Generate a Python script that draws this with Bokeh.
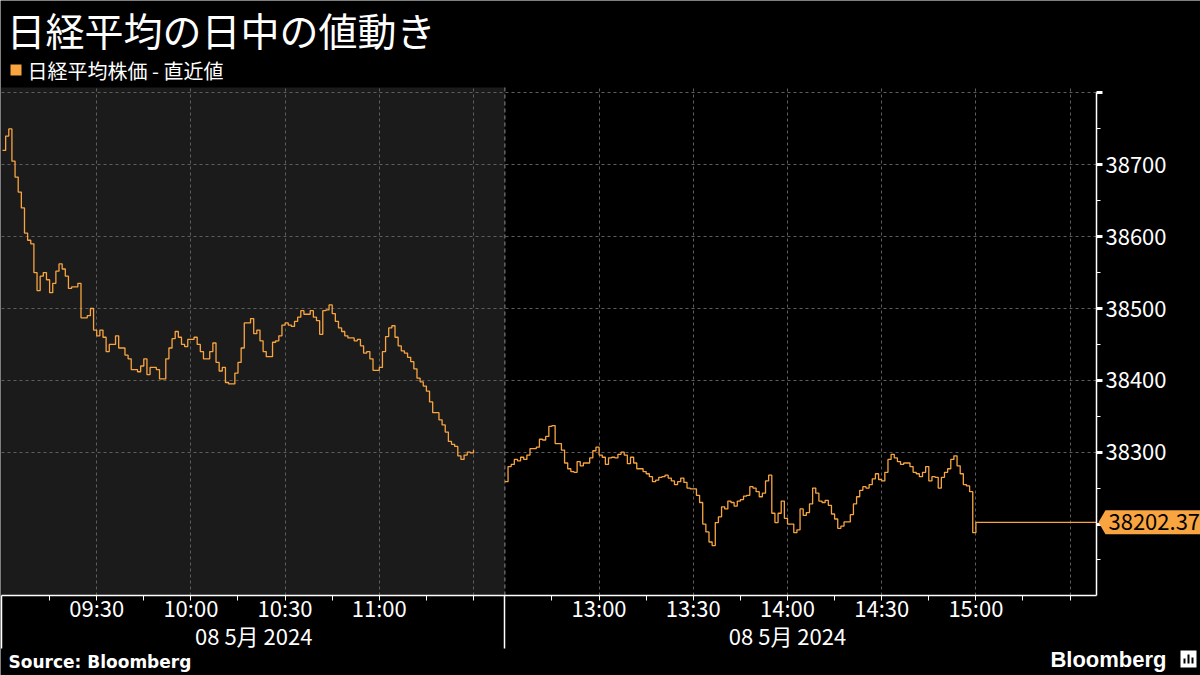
from bokeh.plotting import figure
from bokeh.models import (Range1d, FixedTicker, BoxAnnotation, Label,
                          PolyAnnotation, LinearAxis, Grid)
from bokeh.embed import file_html
from bokeh.resources import INLINE

# ---------------- data ----------------
TITLE = "日経平均の日中の値動き"
SERIES_NAME = "日経平均株価 - 直近値"
DATE_LABEL = "08 5月 2024"
SOURCE = "Source:  Bloomberg"
BRAND = "Bloomberg"

# morning session: 1-minute bars from 09:00
am_start = "09:00"
am_values = [
    38720, 38740, 38750, 38705, 38683, 38662, 38640, 38605, 38595, 38590,
    38550, 38525, 38545, 38550, 38540, 38522, 38535, 38552, 38562, 38555,
    38545, 38528, 38530, 38530, 38535, 38487, 38487, 38490, 38500, 38470,
    38462, 38470, 38460, 38440, 38450, 38450, 38462, 38445, 38445, 38435,
    38430, 38415, 38415, 38412, 38420, 38430, 38408, 38418, 38418, 38415,
    38402, 38402, 38430, 38445, 38458, 38468, 38460, 38450, 38447, 38457,
    38457, 38460, 38450, 38440, 38430, 38430, 38440, 38452, 38425, 38413,
    38418, 38397, 38395, 38395, 38410, 38425, 38445, 38480, 38480, 38486,
    38465, 38470, 38455, 38440, 38433, 38433, 38453, 38455, 38462, 38477,
    38480, 38477, 38475, 38482, 38488, 38497, 38492, 38492, 38497, 38488,
    38483, 38464, 38497, 38498, 38505, 38493, 38482, 38473, 38468, 38462,
    38459, 38459, 38455, 38457, 38448, 38438, 38440, 38430, 38414, 38414,
    38418, 38440, 38461, 38473, 38476, 38460, 38448, 38441, 38438, 38432,
    38426, 38416, 38403, 38398, 38392, 38385, 38370, 38355, 38355, 38345,
    38338, 38328, 38315, 38311, 38308, 38295, 38290, 38296, 38300, 38299,
    38303,
]

# afternoon session: 1-minute bars from 12:30
pm_start = "12:30"
pm_values = [
    38259, 38280, 38283, 38290, 38288, 38293, 38290, 38296, 38305, 38305,
    38307, 38318, 38317, 38322, 38336, 38337, 38312, 38312, 38303, 38285,
    38277, 38273, 38272, 38287, 38281, 38285, 38285, 38292, 38302, 38307,
    38296, 38293, 38283, 38292, 38293, 38292, 38297, 38300, 38296, 38284,
    38293, 38285, 38277, 38277, 38273, 38270, 38266, 38259, 38261, 38265,
    38266, 38268, 38264, 38260, 38255, 38259, 38264, 38258, 38250, 38249,
    38249, 38240, 38230, 38200, 38189, 38175, 38170, 38202, 38210, 38224,
    38221, 38232, 38230, 38225, 38232, 38234, 38239, 38240, 38252, 38250,
    38245, 38238, 38243, 38260, 38268, 38215, 38202, 38215, 38232, 38208,
    38200, 38200, 38188, 38192, 38221, 38212, 38216, 38228, 38250, 38243,
    38232, 38230, 38233, 38226, 38214, 38207, 38194, 38197, 38203, 38203,
    38213, 38228, 38238, 38247, 38252, 38250, 38255, 38263, 38270, 38262,
    38260, 38272, 38290, 38297, 38292, 38287, 38283, 38285, 38285, 38280,
    38272, 38270, 38266, 38272, 38280, 38260, 38266, 38265, 38250, 38265,
    38272, 38277, 38290, 38295, 38281, 38270, 38255, 38253, 38245, 38188,
    38202.37,
]
last_value = 38202.37

time_labels = ["09:30", "10:00", "10:30", "11:00",
               "13:00", "13:30", "14:00", "14:30", "15:00"]
minor_times = ["09:15", "09:45", "10:15", "10:45", "11:15", "11:30",
               "12:45", "13:15", "13:45", "14:15", "14:45", "15:15", "15:30"]
grid_times = ["09:30", "10:00", "10:30", "11:00", "11:30",
              "13:00", "13:30", "14:00", "14:30", "15:00", "15:30"]
y_ticks = [38200, 38300, 38400, 38500, 38600, 38700, 38800]
y_labels = ["", "38300", "38400", "38500", "38600", "38700", ""]

# ---------------- layout constants ----------------
W, H = 1200, 675
LUNCH_POS = 160                 # compressed axis position of 12:30
X_START, X_END = -0.637, 381.53  # whole canvas in x units
CHART_X0, CHART_X1 = -0.45, 348.4
Y_START, Y_END = 37989.2, 38928.7  # whole canvas in y units
Y_BOT, Y_TOP = 38100.6, 38807.6
PX_X = W / (X_END - X_START)
PX_Y = H / (Y_END - Y_START)

ORANGE = "#F8A541"
WHITE = "#FFFFFF"
GRID = "#5E5E5E"
FONT = "Noto Sans CJK JP"


def hm(s):
    h, m = s.split(":")
    return int(h) * 60 + int(m)


def pos(s):
    t = hm(s)
    if t <= hm("12:00"):
        return t - hm(am_start)
    return LUNCH_POS + t - hm(pm_start)


am_x = [i for i in range(len(am_values))]
pm_x = [LUNCH_POS + i for i in range(len(pm_values))]

p = figure(width=W, height=H, output_backend="svg", toolbar_location=None,
           title=None, x_range=Range1d(X_START, X_END),
           y_range=Range1d(Y_START, Y_END),
           x_axis_location=None, y_axis_location=None,
           min_border=0, background_fill_color="black",
           border_fill_color="black", outline_line_color=None)
p.grid.visible = False

# morning shading
p.add_layout(BoxAnnotation(left=CHART_X0, right=LUNCH_POS, bottom=Y_BOT, top=Y_TOP,
                           fill_color="#1B1B1B", fill_alpha=1, line_color=None,
                           level="underlay"))

# grids
if "cross_bounds" in Grid.properties():
    xg = Grid(dimension=0, ticker=FixedTicker(ticks=[pos(s) for s in grid_times]),
              cross_bounds=(Y_BOT, Y_TOP))
    yg = Grid(dimension=1, ticker=FixedTicker(ticks=y_ticks[1:]),
              cross_bounds=(CHART_X0, CHART_X1))
    for g in (xg, yg):
        g.grid_line_color = GRID
        g.grid_line_dash = "3 3"
        g.grid_line_width = 1
        p.add_layout(g)
else:
    gx = [pos(s) for s in grid_times]
    p.segment(gx, [Y_BOT] * len(gx), gx, [Y_TOP] * len(gx), line_color=GRID,
              line_dash="3 3", line_width=1)
    gy = y_ticks[1:]
    p.segment([CHART_X0] * len(gy), gy, [CHART_X1] * len(gy), gy,
              line_color=GRID, line_dash="3 3", line_width=1)

# session separator
p.segment([LUNCH_POS], [Y_BOT], [LUNCH_POS], [Y_TOP], line_color="#8A8A8A",
          line_dash="4 3", line_width=1)

# x axis (fixed at chart bottom)
xa = LinearAxis(fixed_location=Y_BOT, bounds=(CHART_X0, CHART_X1),
                ticker=FixedTicker(ticks=[pos(s) for s in time_labels],
                                   minor_ticks=[pos(s) for s in minor_times]))
xa.major_label_overrides = {pos(s): s for s in time_labels}
xa.axis_line_color = WHITE
xa.axis_line_width = 1.5
xa.major_tick_line_color = WHITE
xa.minor_tick_line_color = WHITE
xa.major_tick_out = 5
xa.major_tick_in = 0
xa.minor_tick_out = 5
xa.minor_tick_in = 0
xa.major_label_text_color = WHITE
xa.major_label_text_font = FONT
xa.major_label_text_font_size = "22px"
xa.major_label_standoff = -9
p.add_layout(xa, "below")

# long session boundary ticks
xb = LinearAxis(fixed_location=Y_BOT,
                ticker=FixedTicker(ticks=[CHART_X0, LUNCH_POS], minor_ticks=[]))
xb.axis_line_color = None
xb.major_tick_line_color = WHITE
xb.major_tick_line_width = 1.5
xb.major_tick_out = 53
xb.major_tick_in = 0
xb.minor_tick_line_color = None
xb.major_label_text_color = None
p.add_layout(xb, "below")

# y axis (fixed at chart right edge)
ya = LinearAxis(fixed_location=CHART_X1, bounds=(Y_BOT, y_ticks[-1]),
                ticker=FixedTicker(ticks=y_ticks,
                                   minor_ticks=[v + 50 for v in y_ticks[:-1]] + [38150]))
ya.major_label_overrides = {v: l for v, l in zip(y_ticks, y_labels)}
ya.axis_line_color = WHITE
ya.axis_line_width = 1.5
ya.major_tick_line_color = WHITE
ya.major_tick_line_width = 3
ya.minor_tick_line_color = WHITE
ya.major_tick_out = 6
ya.major_tick_in = 0
ya.minor_tick_out = 4
ya.minor_tick_in = 0
ya.major_label_text_color = WHITE
ya.major_label_text_font = FONT
ya.major_label_text_font_size = "22px"
ya.major_label_standoff = 3
p.add_layout(ya, "right")

# series
p.step(am_x, am_values, mode="after", line_color=ORANGE, line_width=1.3)
p.step(pm_x, pm_values, mode="after", line_color=ORANGE, line_width=1.3)
p.line([pm_x[-1], CHART_X1], [last_value, last_value], line_color=ORANGE,
       line_width=1.2)

# last value tag
h = 12 / PX_Y
x_tip = CHART_X1 + 2 / PX_X
x_body = CHART_X1 + 9 / PX_X
p.add_layout(PolyAnnotation(xs=[x_tip, x_body, X_END, X_END, x_body],
                            ys=[last_value, last_value + h, last_value + h,
                                last_value - h, last_value - h],
                            fill_color=ORANGE, fill_alpha=1, line_color=None))
p.add_layout(Label(x=x_body, y=last_value, x_offset=3,
                   text=f"{last_value:.2f}", text_color="black",
                   text_font=FONT, text_font_size="22px", text_baseline="middle",
                   text_align="left"))

# texts (screen units: pixels from the canvas bottom-left)
p.add_layout(Label(x=6, y=H - 28.5, x_units="screen", y_units="screen", text=TITLE,
                   text_color=WHITE, text_font=FONT, text_font_size="39px",
                   text_baseline="middle", text_align="left"))
p.add_layout(BoxAnnotation(left=10, right=21, bottom=H - 75, top=H - 64,
                           left_units="screen", right_units="screen",
                           bottom_units="screen", top_units="screen",
                           fill_color=ORANGE, fill_alpha=1, line_color=None))
p.add_layout(Label(x=27, y=H - 70, x_units="screen", y_units="screen",
                   text=SERIES_NAME, text_color=WHITE, text_font=FONT,
                   text_font_size="20px", text_baseline="middle",
                   text_align="left"))
for xc in (LUNCH_POS / 2, pos("14:00")):
    p.add_layout(Label(x=xc, y=H - 634, y_units="screen",
                       text=DATE_LABEL, text_color=WHITE, text_font=FONT,
                       text_font_size="22px", text_baseline="middle",
                       text_align="center"))
p.add_layout(Label(x=8, y=H - 661, x_units="screen", y_units="screen", text=SOURCE,
                   text_color=WHITE, text_font="DejaVu Sans",
                   text_font_style="bold", text_font_size="17px",
                   text_baseline="middle", text_align="left"))
p.add_layout(Label(x=1166, y=H - 659, x_units="screen", y_units="screen",
                   text=BRAND, text_color=WHITE, text_font="Liberation Sans",
                   text_font_style="bold", text_font_size="22px",
                   text_baseline="middle", text_align="right"))
# small brand icon
p.add_layout(BoxAnnotation(left=1180, right=1196, bottom=H - 667, top=H - 650,
                           left_units="screen", right_units="screen",
                           bottom_units="screen", top_units="screen",
                           fill_color=WHITE, fill_alpha=1, line_color=None))
for l, t in ((1183, 658), (1187, 654), (1191, 657)):
    p.add_layout(BoxAnnotation(left=l, right=l + 2, bottom=H - 663, top=H - t,
                               left_units="screen", right_units="screen",
                               bottom_units="screen", top_units="screen",
                               fill_color="black", fill_alpha=1, line_color=None))

open("out.html", "w").write(file_html(p, INLINE))
